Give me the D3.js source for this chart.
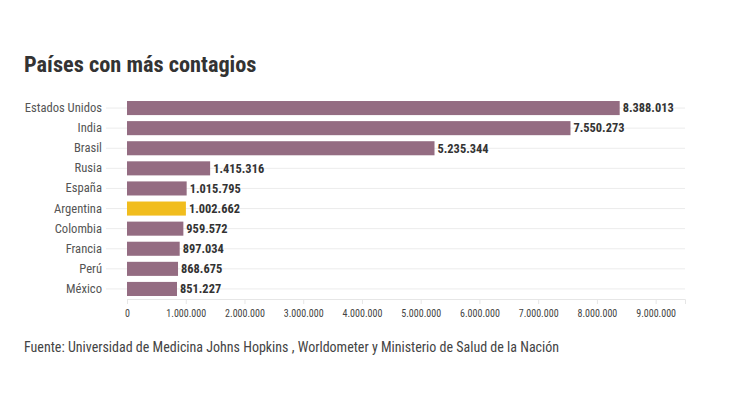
<!DOCTYPE html>
<html><head><meta charset="utf-8">
<script src="https://cdn.jsdelivr.net/npm/d3@7"></script>
<style>
body{margin:0;background:#fff;}
text{font-family:"Roboto Condensed","Liberation Sans Narrow","DejaVu Sans Condensed",Roboto,sans-serif;}
</style></head>
<body><svg id="c" width="748" height="398"></svg>
<script>
const countries = ["Estados Unidos","India","Brasil","Rusia","España","Argentina","Colombia","Francia","Perú","México"];
const cases = [8388013,7550273,5235344,1415316,1015795,1002662,959572,897034,868675,851227];
const tickValues = [0,1000000,2000000,3000000,4000000,5000000,6000000,7000000,8000000,9000000];
const highlight = "Argentina";

const svg = d3.select("#c");
const fmt = v => d3.format(",")(v).replace(/,/g,".");
const x = d3.scaleLinear().domain([0,9500000]).range([127,685]);
const y = d3.scaleBand().domain(countries).range([98,299]).paddingInner(0.3).paddingOuter(0.15);
const ff = '"Roboto Condensed","Liberation Sans Narrow","DejaVu Sans Condensed",sans-serif';

svg.append("text").attr("x",24).attr("y",72).text("Países con más contagios")
  .attr("font-size",22.3).attr("font-weight",700).attr("fill","#333");

// row grid lines
svg.append("g").selectAll("line").data(countries).join("line")
  .attr("x1",106).attr("x2",685)
  .attr("y1",d=>y(d)+y.bandwidth()/2).attr("y2",d=>y(d)+y.bandwidth()/2)
  .attr("stroke","#ececec").attr("stroke-width",1);

// bottom axis
const xa = svg.append("g").attr("transform","translate(0,299)")
  .call(d3.axisBottom(x).tickValues(tickValues).tickFormat(fmt).tickSize(5).tickPadding(6));
xa.select(".domain").attr("stroke","#e6e6e6");
xa.selectAll(".tick line").attr("stroke","#e6e6e6");
xa.selectAll(".tick text").attr("font-size",10).attr("fill","#444").attr("font-family",ff);

// y labels
const ya = svg.append("g").attr("transform","translate(102,0)")
  .call(d3.axisLeft(y).tickSize(0).tickPadding(0));
ya.select(".domain").remove();
ya.selectAll(".tick text").attr("font-size",12.6).attr("fill","#555").attr("font-family",ff);

// bars
svg.append("g").selectAll("rect").data(countries).join("rect")
  .attr("x",x(0)).attr("y",d=>y(d))
  .attr("width",(d,i)=>x(cases[i])-x(0)).attr("height",y.bandwidth())
  .attr("fill",d=>d===highlight?"#f1bd1e":"#946c82");

// value labels
svg.append("g").selectAll("text").data(countries).join("text")
  .attr("x",(d,i)=>x(cases[i])+3).attr("y",d=>y(d)+y.bandwidth()/2).attr("dy","0.35em")
  .text((d,i)=>fmt(cases[i])).attr("font-size",12.4).attr("font-weight",700).attr("fill","#333");

svg.append("text").attr("x",24).attr("y",352)
  .text("Fuente: Universidad de Medicina Johns Hopkins , Worldometer y Ministerio de Salud de la Nación")
  .attr("font-size",14).attr("fill","#444");
</script></body></html>
